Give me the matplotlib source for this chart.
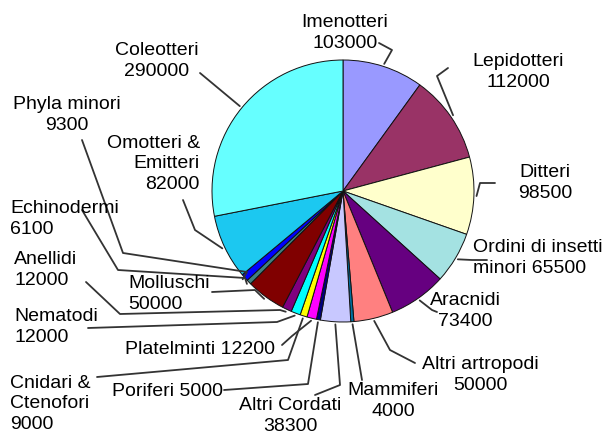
import matplotlib.pyplot as plt
import numpy as np

plt.rcParams['font.family'] = ['Liberation Sans', 'DejaVu Sans']

names = ["Imenotteri", "Lepidotteri", "Ditteri", "Ordini di insetti minori", "Aracnidi",
         "Altri artropodi", "Mammiferi", "Altri Cordati", "Poriferi", "Platelminti",
         "Cnidari & Ctenofori", "Nematodi", "Anellidi", "Molluschi", "Echinodermi",
         "Phyla minori", "Omotteri & Emitteri", "Coleotteri"]
values = [103000, 112000, 98500, 65500, 73400, 50000, 4000, 38300, 5000, 12200,
          9000, 12000, 12000, 50000, 6100, 9300, 82000, 290000]
colors = ["#9999ff", "#993366", "#ffffcc", "#a4e2e2", "#660080", "#ff8080", "#0070a0",
          "#c8c8ff", "#000080", "#ff00ff", "#ffff00", "#00ffff", "#800080", "#800000",
          "#408080", "#0000ff", "#1cc8f0", "#66ffff"]

W, H = 610, 437
def P(x, y):
    # pixel coordinates (from top-left) -> data coordinates
    return (x, H - y)

fig = plt.figure(figsize=(6.1, 4.37), dpi=100)
ax = fig.add_axes([0, 0, 1, 1])
cx, cy = P(343, 191)
R = 131
wedges, _ = ax.pie(values, colors=colors, startangle=90, counterclock=False,
                   center=(cx, cy), radius=R,
                   wedgeprops=dict(edgecolor="#111111", linewidth=0.7))
ax.set_xlim(0, W)
ax.set_ylim(0, H)
ax.set_aspect("equal")
ax.axis("off")

# label text: (text, x, y, ha) in pixels (center of text block)
labels = {
    "Imenotteri": ("Imenotteri\n103000", 345, 33, "center"),
    "Lepidotteri": ("Lepidotteri\n112000", 518, 72, "center"),
    "Ditteri": ("Ditteri\n98500", 545, 183, "center"),
    "Ordini di insetti minori": ("Ordini di insetti\nminori 65500", 473, 258, "left"),
    "Aracnidi": ("Aracnidi\n73400", 465, 311, "center"),
    "Altri artropodi": ("Altri artropodi\n50000", 480, 375, "center"),
    "Mammiferi": ("Mammiferi\n4000", 393, 401, "center"),
    "Altri Cordati": ("Altri Cordati\n38300", 290, 416, "center"),
    "Poriferi": ("Poriferi 5000", 167, 391, "center"),
    "Platelminti": ("Platelminti 12200", 200, 350, "center"),
    "Cnidari & Ctenofori": ("Cnidari &\nCtenofori\n9000", 10, 404, "left"),
    "Nematodi": ("Nematodi\n12000", 14, 327, "left"),
    "Anellidi": ("Anellidi\n12000", 14, 270, "left"),
    "Molluschi": ("Molluschi\n50000", 128, 294, "left"),
    "Echinodermi": ("Echinodermi\n6100", 10, 219, "left"),
    "Phyla minori": ("Phyla minori\n9300", 67, 115, "center"),
    "Omotteri & Emitteri": ("Omotteri &\nEmitteri\n82000", 200, 164, "right"),
    "Coleotteri": ("Coleotteri\n290000", 157, 61, "center"),
}
for name, (txt, x, y, ha) in labels.items():
    ax.text(*P(x, y), txt, ha=ha, va="center", fontsize=14, linespacing=1.3,
            color="black", multialignment=ha)

# leader line waypoints (pixels); the last point is the wedge edge
leaders = {
    "Imenotteri": [(379, 43), (392, 50)],
    "Lepidotteri": [(448, 68), (437, 76)],
    "Ditteri": [(495, 183), (480, 183)],
    "Ordini di insetti minori": [(487, 260), (472, 260)],
    "Aracnidi": [(437, 312), (432, 310)],
    "Altri artropodi": [(415, 363), (390, 350)],
    "Mammiferi": [(362, 380)],
    "Altri Cordati": [(315, 395), (340, 385)],
    "Poriferi": [(224, 390), (308, 384)],
    "Platelminti": [(282, 345), (292, 336)],
    "Cnidari & Ctenofori": [(97, 377), (288, 360)],
    "Nematodi": [(88, 328), (277, 322)],
    "Anellidi": [(86, 282), (120, 314), (280, 310)],
    "Molluschi": [(212, 292), (255, 290)],
    "Echinodermi": [(82, 210), (118, 270), (245, 278)],
    "Phyla minori": [(82, 140), (123, 253), (247, 272)],
    "Omotteri & Emitteri": [(183, 200), (195, 230)],
    "Coleotteri": [(200, 73)],
}
total = sum(values)
start = 90.0
for name, v in zip(names, values):
    mid = np.deg2rad(start - 360 * v / total / 2)
    start -= 360 * v / total
    ex, ey = cx + 1.02 * R * np.cos(mid), cy + 1.02 * R * np.sin(mid)
    pts = [P(x, y) for x, y in leaders[name]] + [(ex, ey)]
    xs, ys = zip(*pts)
    ax.plot(xs, ys, color="#333333", linewidth=1.3, solid_capstyle="round")

fig.savefig("out.png", dpi=100)
